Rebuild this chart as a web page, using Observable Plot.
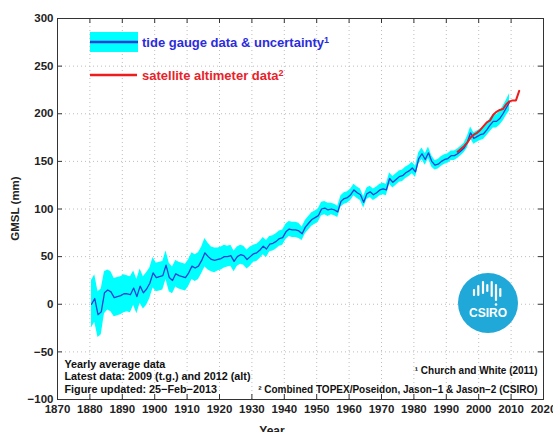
<!DOCTYPE html>
<html><head><meta charset="utf-8">
<script src="https://cdn.jsdelivr.net/npm/d3@7"></script>
<script src="https://cdn.jsdelivr.net/npm/@observablehq/plot@0.6"></script>
<style>
html,body{margin:0;padding:0;background:#fff;}
#chart{position:relative;width:553px;height:432px;overflow:hidden;}
</style></head><body><div id="chart"></div>
<script>
// Tide gauge yearly GMSL (mm), 1880..2009 (Church and White 2011)
const tgStartYear = 1880;
const tgGMSL = [
  0, 6, -11, -8, 12, 15, 13, 7, 8, 9,
  11, 11, 10, 17, 8, 19, 12, 16, 22, 33,
  28, 29, 30, 41, 28, 25, 32, 30, 29, 28,
  33, 40, 38, 40, 46, 54, 50, 47, 46, 47,
  48, 50, 50, 51, 45, 50, 52, 51, 47, 50,
  53, 54, 57, 61, 58, 63, 64, 66, 69, 70,
  76, 79, 78, 78, 77, 74, 81, 85, 89, 91,
  93, 100, 101, 99, 100, 99, 97, 108, 111, 112,
  115, 120, 117, 115, 107, 116, 118, 115, 117, 120,
  121, 120, 132, 128, 131, 134, 135, 138, 140, 143,
  139, 153, 158, 152, 159, 150, 146, 147, 150, 152,
  153, 156, 156, 158, 161, 164, 170, 180, 174, 176,
  178, 179, 183, 188, 192, 192, 195, 200, 206, 212
];
// half-width of the uncertainty band (mm)
const tgUncertainty = [
  25, 25, 24, 24, 22, 21, 21, 20, 20, 20,
  20, 19, 19, 18, 18, 18, 17, 17, 16, 16,
  15, 15, 15, 15, 15, 14, 14, 14, 14, 14,
  14, 14, 14, 14, 14, 15, 14, 13, 13, 12,
  12, 12, 11, 11, 11, 10, 10, 10, 10, 10,
  9, 9, 9, 9, 9, 8, 8, 8, 8, 8,
  8, 8, 8, 8, 8, 7, 7, 7, 7, 7,
  7, 7, 7, 7, 6, 6, 6, 6, 6, 6,
  6, 6, 6, 6, 6, 6, 6, 6, 6, 6,
  6, 6, 6, 6, 6, 6, 6, 6, 6, 6,
  6, 6, 6, 6, 6, 6, 5, 5, 5, 5,
  5, 5, 5, 5, 5, 5, 6, 6, 6, 6,
  6, 6, 6, 7, 7, 7, 7, 8, 8, 9
];
// Satellite altimeter yearly GMSL (mm)
const satYears = [1993.5, 1994.5, 1995.5, 1996.5, 1997.5, 1998.5, 1999.5, 2000.5, 2001.5, 2002.5,
                  2003.5, 2004.5, 2005.5, 2006.5, 2007.5, 2008.5, 2009.5, 2010.5, 2011.5, 2012.5];
const satGMSL = [160, 163, 166, 170, 175, 178, 180, 183, 187, 191,
                 193, 199, 202, 204, 205, 210, 213, 214, 214, 224];

const xTicks = [1870, 1880, 1890, 1900, 1910, 1920, 1930, 1940, 1950, 1960, 1970, 1980, 1990, 2000, 2010, 2020];
const yTicks = [-100, -50, 0, 50, 100, 150, 200, 250, 300];
const legendLabels = ["tide gauge data & uncertainty", "satellite altimeter data"];
const legendSup = ["1", "2"];
const notesLeft = ["Yearly average data", "Latest data: 2009 (t.g.) and 2012 (alt)", "Figure updated: 25\u2212Feb\u22122013"];
const notesRight = ["\u00b9 Church and White (2011)", "\u00b2 Combined TOPEX/Poseidon, Jason\u22121 & Jason\u22122 (CSIRO)"];
const xLabel = "Year";
const yLabel = "GMSL (mm)";

const tg = tgGMSL.map((v, i) => ({year: tgStartYear + i + 0.5, v, u: tgUncertainty[i]}));
const sat = satYears.map((year, i) => ({year, v: satGMSL[i]}));

const W = 553, H = 432, mt = 18, mb = 33, ml = 57, mr = 10;
const innerW = W - ml - mr, innerH = H - mt - mb, tl = 5;
const font = "'Liberation Sans', Arial, Helvetica, sans-serif";
const cyan = "#00ffff", blue = "#1f3fd8", red = "#ee1c1c";

const plot = Plot.plot({
  width: W, height: H,
  marginTop: mt, marginBottom: mb, marginLeft: ml, marginRight: mr,
  style: {fontFamily: font, fontSize: "11.5px", fontWeight: "bold", color: "#222", background: "#fff", overflow: "visible"},
  x: {domain: [1870, 2020]},
  y: {domain: [-100, 300]},
  marks: [
    Plot.gridX(xTicks, {stroke: "#bdbdbd", strokeOpacity: 1, strokeDasharray: "1,3"}),
    Plot.gridY(yTicks, {stroke: "#bdbdbd", strokeOpacity: 1, strokeDasharray: "1,3"}),
    Plot.areaY(tg, {x: "year", y1: d => d.v - d.u, y2: d => d.v + d.u, fill: cyan}),
    Plot.lineY(tg, {x: "year", y: "v", stroke: blue, strokeWidth: 1.3}),
    Plot.lineY(sat, {x: "year", y: "v", stroke: red, strokeWidth: 2}),
    Plot.tickX(xTicks, {x: d => d, insetTop: innerH - tl, stroke: "#333"}),
    Plot.tickX(xTicks, {x: d => d, insetBottom: innerH - tl, stroke: "#333"}),
    Plot.tickY(yTicks, {y: d => d, insetRight: innerW - tl, stroke: "#333"}),
    Plot.tickY(yTicks, {y: d => d, insetLeft: innerW - tl, stroke: "#333"}),
    Plot.frame({stroke: "#333"}),
    Plot.axisX(xTicks, {tickSize: 0, tickPadding: 5, tickFormat: d => String(d), label: null}),
    Plot.axisY(yTicks, {tickSize: 0, tickPadding: 4, label: null}),
    Plot.text([notesLeft.join("\n")], {frameAnchor: "bottom-left", textAnchor: "start", lineAnchor: "bottom",
      dx: 7, dy: -7, fontSize: 10.8, lineHeight: 1.12, fill: "#111"}),
    Plot.text([notesRight.join("\n")], {frameAnchor: "bottom-right", textAnchor: "end", lineAnchor: "bottom",
      dx: -6, dy: -7, fontSize: 10, lineHeight: 1.85, fill: "#111"})
  ]
});

const svg = d3.select(plot);
// axis titles
svg.append("text").attr("x", 272).attr("y", 435).attr("text-anchor", "middle")
  .attr("font-family", font).attr("font-weight", "bold").attr("font-size", 12).attr("fill", "#222").text(xLabel);
svg.append("text").attr("transform", `translate(19,${mt + innerH / 2}) rotate(-90)`).attr("text-anchor", "middle")
  .attr("font-family", font).attr("font-weight", "bold").attr("font-size", 11.5).attr("fill", "#222").text(yLabel);

// legend
const lg = svg.append("g").attr("font-family", font).attr("font-weight", "bold").attr("font-size", 13).attr("text-anchor", "start");
lg.append("rect").attr("x", 90).attr("y", 32).attr("width", 48).attr("height", 20).attr("fill", cyan);
lg.append("line").attr("x1", 90).attr("x2", 138).attr("y1", 42).attr("y2", 42).attr("stroke", blue).attr("stroke-width", 2.5);
lg.append("line").attr("x1", 90).attr("x2", 137).attr("y1", 75).attr("y2", 75).attr("stroke", red).attr("stroke-width", 2.5);
const colors = ["#2c2cdc", "#e8222a"];
[42, 75].forEach((y, i) => {
  const t = lg.append("text").attr("x", 142).attr("y", y).attr("dy", "0.35em").attr("fill", colors[i]).attr("text-anchor", "start");
  t.append("tspan").text(legendLabels[i]);
  t.append("tspan").attr("dy", "-0.45em").attr("font-size", 9).text(legendSup[i]);
});

// CSIRO logo
const cx = 488, cy = 303;
const logo = svg.append("g").attr("transform", `translate(${cx},${cy})`);
logo.append("circle").attr("r", 30).attr("fill", "#1fa8d8");
const bars = [[-14, -13, -8], [-9.7, -17, -8], [-5, -21, -10], [-0.7, -18, -12], [3.7, -21, -7], [8, -18, -3], [12.3, -14, -7]];
bars.forEach(([bx, y1, y2]) => logo.append("line").attr("x1", bx).attr("x2", bx).attr("y1", y1).attr("y2", y2)
  .attr("stroke", "#fff").attr("stroke-width", 2.2).attr("stroke-linecap", "round"));
logo.append("circle").attr("cx", 8).attr("cy", 1.5).attr("r", 1.3).attr("fill", "#fff");
logo.append("text").attr("y", 14).attr("text-anchor", "middle").attr("font-family", font).attr("font-weight", "bold")
  .attr("font-size", 12).attr("fill", "#fff").text("CSIRO");

document.getElementById("chart").appendChild(plot);
</script>
</body></html>
